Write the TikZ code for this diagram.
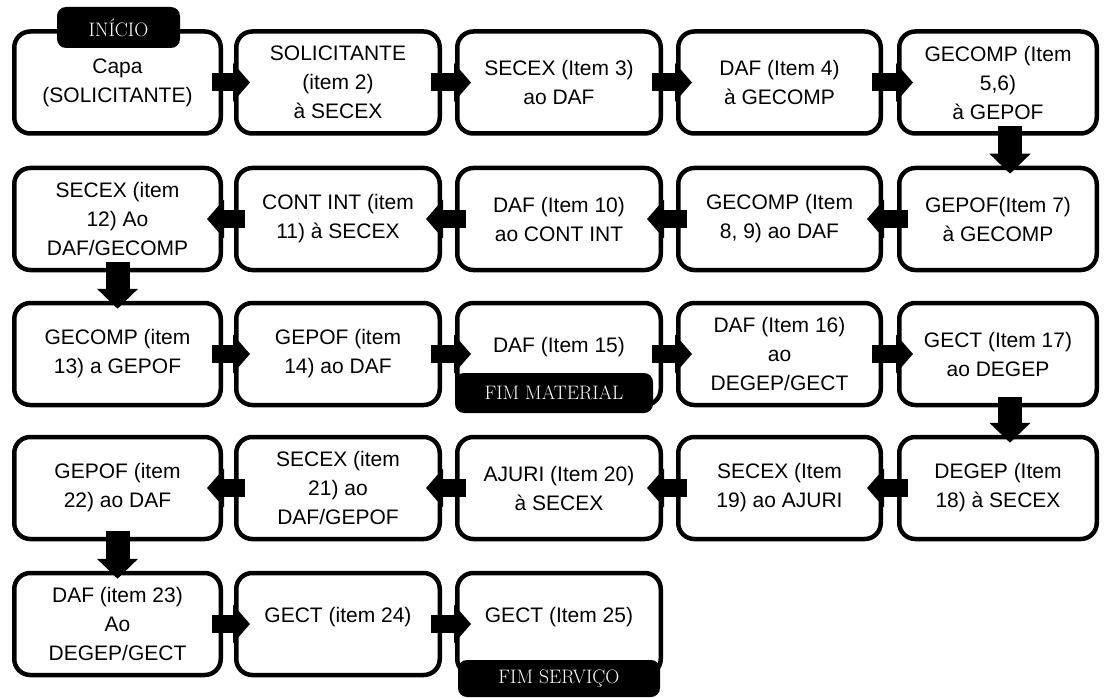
\documentclass[tikz,border=0pt]{standalone}
\usepackage{fontspec}
\newfontfamily\boxfont{Liberation Sans}
\usetikzlibrary{arrows.meta}
\newcommand{\upone}[1]{\raisebox{7pt}[\height][\depth]{#1}}
\begin{document}
\begin{tikzpicture}[x=1pt,y=-1pt,
  stepbox/.style={draw=black, line width=4.5pt, rounded corners=16pt, fill=white,
    align=center, inner sep=0pt, minimum height=102pt,
    font=\boxfont\fontsize{21}{29}\selectfont},
  tagbox/.style={fill=black, rounded corners=9pt, text=white, inner sep=0pt,
    font=\fontsize{19.5}{21}\selectfont},
  hflow/.style={line width=18pt, -{Triangle[width=38pt,length=17pt]}},
  vflow/.style={line width=24pt, -{Triangle[width=40pt,length=20pt]}},
  wa/.style={minimum width=206.5pt},
  wb/.style={minimum width=203.5pt},
  wc/.style={minimum width=203.5pt},
  wd/.style={minimum width=202.5pt},
  we/.style={minimum width=197.5pt}]
\useasboundingbox (0,0) rectangle (1104,698);

% row 1
\node[stepbox,wa] (r1c1) at (117.5,82.5) {Capa\\(SOLICITANTE)};
\node[stepbox,wb] (r1c2) at (338,82.5) {SOLICITANTE\\(item 2)\\à SECEX};
\node[stepbox,wc] (r1c3) at (559,82.5) {SECEX (Item 3)\\ao DAF};
\node[stepbox,wd] (r1c4) at (779.5,82.5) {DAF (Item 4)\\à GECOMP};
\node[stepbox,we] (r1c5) at (998,82.5) {GECOMP (Item\\5,6)\\à GEPOF};

% row 2
\node[stepbox,wa] (r2c1) at (117.5,219) {SECEX (item\\12) Ao\\DAF/GECOMP};
\node[stepbox,wb] (r2c2) at (338,219) {CONT INT (item\\11) à SECEX};
\node[stepbox,wc] (r2c3) at (559,219) {DAF (Item 10)\\ao CONT INT};
\node[stepbox,wd] (r2c4) at (779.5,219) {GECOMP (Item\\8, 9) ao DAF};
\node[stepbox,we] (r2c5) at (998,219) {GEPOF(Item 7)\\à GECOMP};

% row 3
\node[stepbox,wa] (r3c1) at (117.5,354) {GECOMP (item\\13) a GEPOF};
\node[stepbox,wb] (r3c2) at (338,354) {GEPOF (item\\14) ao DAF};
\node[stepbox,wc] (r3c3) at (559,354) {\upone{DAF (Item 15)}};
\node[stepbox,wd] (r3c4) at (779.5,354) {DAF (Item 16)\\ao\\DEGEP/GECT};
\node[stepbox,we] (r3c5) at (998,354) {GECT (Item 17)\\ao DEGEP};

% row 4
\node[stepbox,wa] (r4c1) at (117.5,488) {GEPOF (item\\22) ao DAF};
\node[stepbox,wb] (r4c2) at (338,488) {SECEX (item\\21) ao\\DAF/GEPOF};
\node[stepbox,wc] (r4c3) at (559,488) {AJURI (Item 20)\\à SECEX};
\node[stepbox,wd] (r4c4) at (779.5,488) {SECEX (Item\\19) ao AJURI};
\node[stepbox,we] (r4c5) at (998,488) {DEGEP (Item\\18) à SECEX};

% row 5
\node[stepbox,wa] (r5c1) at (117.5,624) {DAF (item 23)\\Ao\\DEGEP/GECT};
\node[stepbox,wb] (r5c2) at (338,624) {\upone{GECT (item 24)}};
\node[stepbox,wc] (r5c3) at (559,624) {\upone{GECT (Item 25)}};

% start / end tags
\node[tagbox, minimum width=123pt, minimum height=41pt] (inicio) at (118.5,27.5) {INÍCIO};
\node[tagbox, minimum width=198pt, minimum height=40pt] (fimmat) at (554,393) {FIM MATERIAL};
\node[tagbox, minimum width=202pt, minimum height=37pt] (fimserv) at (559,678.5) {FIM SERVIÇO};

% flow arrows, row 1 (left to right)
\draw[hflow] ([xshift=-11pt]r1c1.east) -- ([xshift=16pt]r1c2.west);
\draw[hflow] ([xshift=-11pt]r1c2.east) -- ([xshift=16pt]r1c3.west);
\draw[hflow] ([xshift=-11pt]r1c3.east) -- ([xshift=16pt]r1c4.west);
\draw[hflow] ([xshift=-11pt]r1c4.east) -- ([xshift=16pt]r1c5.west);
\draw[vflow] ([xshift=12pt,yshift=10pt]r1c5.south) -- ([xshift=12pt,yshift=-8pt]r2c5.north);

% row 2 (right to left)
\draw[hflow] ([xshift=11pt]r2c5.west) -- ([xshift=-16pt]r2c4.east);
\draw[hflow] ([xshift=11pt]r2c4.west) -- ([xshift=-16pt]r2c3.east);
\draw[hflow] ([xshift=11pt]r2c3.west) -- ([xshift=-16pt]r2c2.east);
\draw[hflow] ([xshift=11pt]r2c2.west) -- ([xshift=-16pt]r2c1.east);
\draw[vflow] ([yshift=10pt]r2c1.south) -- ([yshift=-8pt]r3c1.north);

% row 3 (left to right)
\draw[hflow] ([xshift=-11pt]r3c1.east) -- ([xshift=16pt]r3c2.west);
\draw[hflow] ([xshift=-11pt]r3c2.east) -- ([xshift=16pt]r3c3.west);
\draw[hflow] ([xshift=-11pt]r3c3.east) -- ([xshift=16pt]r3c4.west);
\draw[hflow] ([xshift=-11pt]r3c4.east) -- ([xshift=16pt]r3c5.west);
\draw[vflow] ([xshift=12pt,yshift=10pt]r3c5.south) -- ([xshift=12pt,yshift=-8pt]r4c5.north);

% row 4 (right to left)
\draw[hflow] ([xshift=11pt]r4c5.west) -- ([xshift=-16pt]r4c4.east);
\draw[hflow] ([xshift=11pt]r4c4.west) -- ([xshift=-16pt]r4c3.east);
\draw[hflow] ([xshift=11pt]r4c3.west) -- ([xshift=-16pt]r4c2.east);
\draw[hflow] ([xshift=11pt]r4c2.west) -- ([xshift=-16pt]r4c1.east);
\draw[vflow] ([yshift=10pt]r4c1.south) -- ([yshift=-8pt]r5c1.north);

% row 5 (left to right)
\draw[hflow] ([xshift=-11pt]r5c1.east) -- ([xshift=16pt]r5c2.west);
\draw[hflow] ([xshift=-11pt]r5c2.east) -- ([xshift=16pt]r5c3.west);
\end{tikzpicture}
\end{document}
